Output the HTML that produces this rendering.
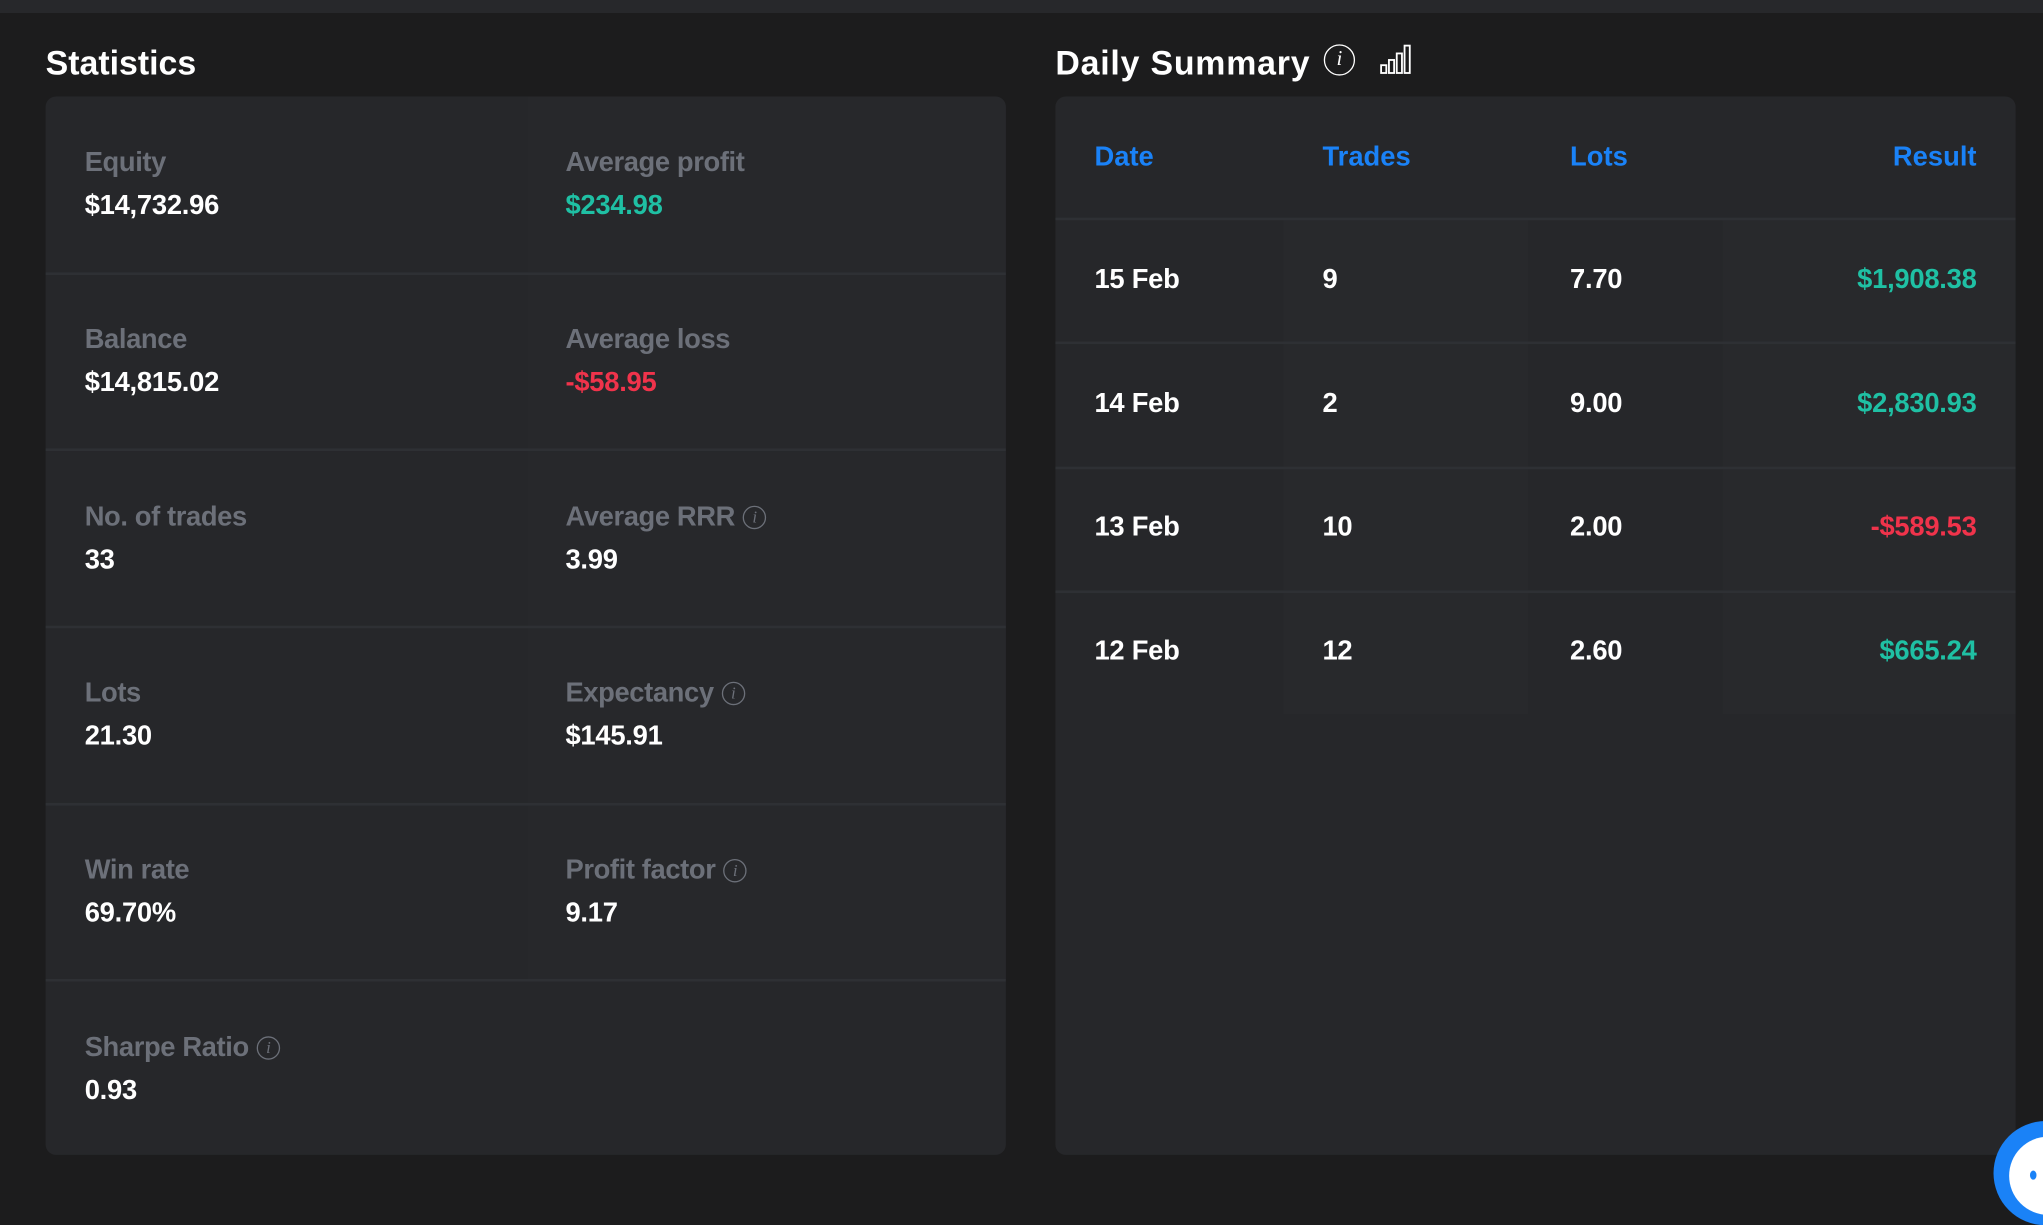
<!DOCTYPE html>
<html><head><meta charset="utf-8"><style>
html,body{margin:0;padding:0;background:#1c1c1d;width:2043px;height:1194px;overflow:hidden}
#w{position:absolute;left:0;top:0;width:1568px;height:916px;transform:scale(1.30293,1.30349);transform-origin:0 0;font-family:"Liberation Sans",sans-serif;background:#1c1c1d}
.a{position:absolute}
.bar{left:0;top:0;width:1568px;height:10px;background:#27282b}
.t{color:#fff;font-weight:bold;font-size:26px;letter-spacing:0px}
.panel{background:#26272a;border-radius:8px}
.lbl{color:#6c7079;font-weight:bold;font-size:21px;letter-spacing:-0.3px}
.val{color:#fff;font-size:21px;font-weight:bold;letter-spacing:-0.2px}
.hl{background:#2e3034;height:2px}
.ic{display:inline-block;width:18px;height:18px;border:1.5px solid #6c7079;border-radius:50%;box-sizing:border-box;font:italic 13px "Liberation Serif",serif;color:#6c7079;text-align:center;line-height:16px;vertical-align:2px;margin-left:6px}
.hd{color:#1a82f7;font-weight:bold;font-size:21px}
.g{color:#1fc0a4}.r{color:#f0334b}
</style></head><body><div id="w">
<div class="a bar"></div>
<div class="a t" style="left:35px;top:33px">Statistics</div>
<div class="a t" style="left:810px;top:33px;letter-spacing:0.6px">Daily Summary</div>
<div class="a" style="left:1016px;top:34px;width:24px;height:24px;border:1.5px solid #fff;border-radius:50%;box-sizing:border-box;color:#fff;font:italic 16px 'Liberation Serif',serif;text-align:center;line-height:21px">i</div>
<svg class="a" style="left:1058px;top:34px" width="26" height="24"><g fill="none" stroke="#fff" stroke-width="1.4"><rect x="2" y="16" width="4" height="6"/><rect x="8" y="12" width="4" height="10"/><rect x="14" y="7" width="4" height="15"/><rect x="20" y="1" width="4" height="21"/></g></svg>

<div class="a panel" style="left:35px;top:74px;width:737px;height:812px;overflow:hidden">
 <div class="a" style="left:370px;top:0;width:367px;height:678px;background:#27282b"></div>
 <div class="a hl" style="left:0;top:135px;width:737px"></div>
 <div class="a hl" style="left:0;top:270px;width:737px"></div>
 <div class="a hl" style="left:0;top:406px;width:737px"></div>
 <div class="a hl" style="left:0;top:542px;width:737px"></div>
 <div class="a hl" style="left:0;top:677px;width:737px"></div>
</div>
<div class="a lbl" style="left:65px;top:113px">Equity</div><div class="a val" style="left:65px;top:146px">$14,732.96</div>
<div class="a lbl" style="left:434px;top:113px">Average profit</div><div class="a val g" style="left:434px;top:146px">$234.98</div>
<div class="a lbl" style="left:65px;top:249px">Balance</div><div class="a val" style="left:65px;top:282px">$14,815.02</div>
<div class="a lbl" style="left:434px;top:249px">Average loss</div><div class="a val r" style="left:434px;top:282px">-$58.95</div>
<div class="a lbl" style="left:65px;top:385px">No. of trades</div><div class="a val" style="left:65px;top:418px">33</div>
<div class="a lbl" style="left:434px;top:385px">Average RRR<span class="ic">i</span></div><div class="a val" style="left:434px;top:418px">3.99</div>
<div class="a lbl" style="left:65px;top:520px">Lots</div><div class="a val" style="left:65px;top:553px">21.30</div>
<div class="a lbl" style="left:434px;top:520px">Expectancy<span class="ic">i</span></div><div class="a val" style="left:434px;top:553px">$145.91</div>
<div class="a lbl" style="left:65px;top:656px">Win rate</div><div class="a val" style="left:65px;top:689px">69.70%</div>
<div class="a lbl" style="left:434px;top:656px">Profit factor<span class="ic">i</span></div><div class="a val" style="left:434px;top:689px">9.17</div>
<div class="a lbl" style="left:65px;top:792px">Sharpe Ratio<span class="ic">i</span></div><div class="a val" style="left:65px;top:825px">0.93</div>

<div class="a panel" style="left:810px;top:74px;width:737px;height:812px;overflow:hidden">
 <div class="a" style="left:175px;top:94px;width:188px;height:380px;background:#28292c"></div>
 <div class="a" style="left:512px;top:94px;width:225px;height:380px;background:#28292c"></div>
 <div class="a hl" style="left:0;top:93px;width:737px"></div>
 <div class="a hl" style="left:0;top:188px;width:737px"></div>
 <div class="a hl" style="left:0;top:284px;width:737px"></div>
 <div class="a hl" style="left:0;top:379px;width:737px"></div>
</div>
<div class="a hd" style="left:840px;top:109px">Date</div>
<div class="a hd" style="left:1015px;top:109px">Trades</div>
<div class="a hd" style="left:1205px;top:109px">Lots</div>
<div class="a hd" style="right:51px;top:109px">Result</div>

<div class="a val" style="left:840px;top:203px">15 Feb</div><div class="a val" style="left:1015px;top:203px">9</div><div class="a val" style="left:1205px;top:203px">7.70</div><div class="a val g" style="right:51px;top:203px">$1,908.38</div>
<div class="a val" style="left:840px;top:298px">14 Feb</div><div class="a val" style="left:1015px;top:298px">2</div><div class="a val" style="left:1205px;top:298px">9.00</div><div class="a val g" style="right:51px;top:298px">$2,830.93</div>
<div class="a val" style="left:840px;top:393px">13 Feb</div><div class="a val" style="left:1015px;top:393px">10</div><div class="a val" style="left:1205px;top:393px">2.00</div><div class="a val r" style="right:51px;top:393px">-$589.53</div>
<div class="a val" style="left:840px;top:488px">12 Feb</div><div class="a val" style="left:1015px;top:488px">12</div><div class="a val" style="left:1205px;top:488px">2.60</div><div class="a val g" style="right:51px;top:488px">$665.24</div>

<div class="a" style="left:1530px;top:860px;width:80px;height:80px;border-radius:50%;background:#1a82f7"></div>
<div class="a" style="left:1542px;top:872px;width:60px;height:60px;border-radius:50%;background:#fff"></div>
<div class="a" style="left:1558px;top:898px;width:5px;height:7px;border-radius:50%;background:#1a82f7"></div>
</div></body></html>
